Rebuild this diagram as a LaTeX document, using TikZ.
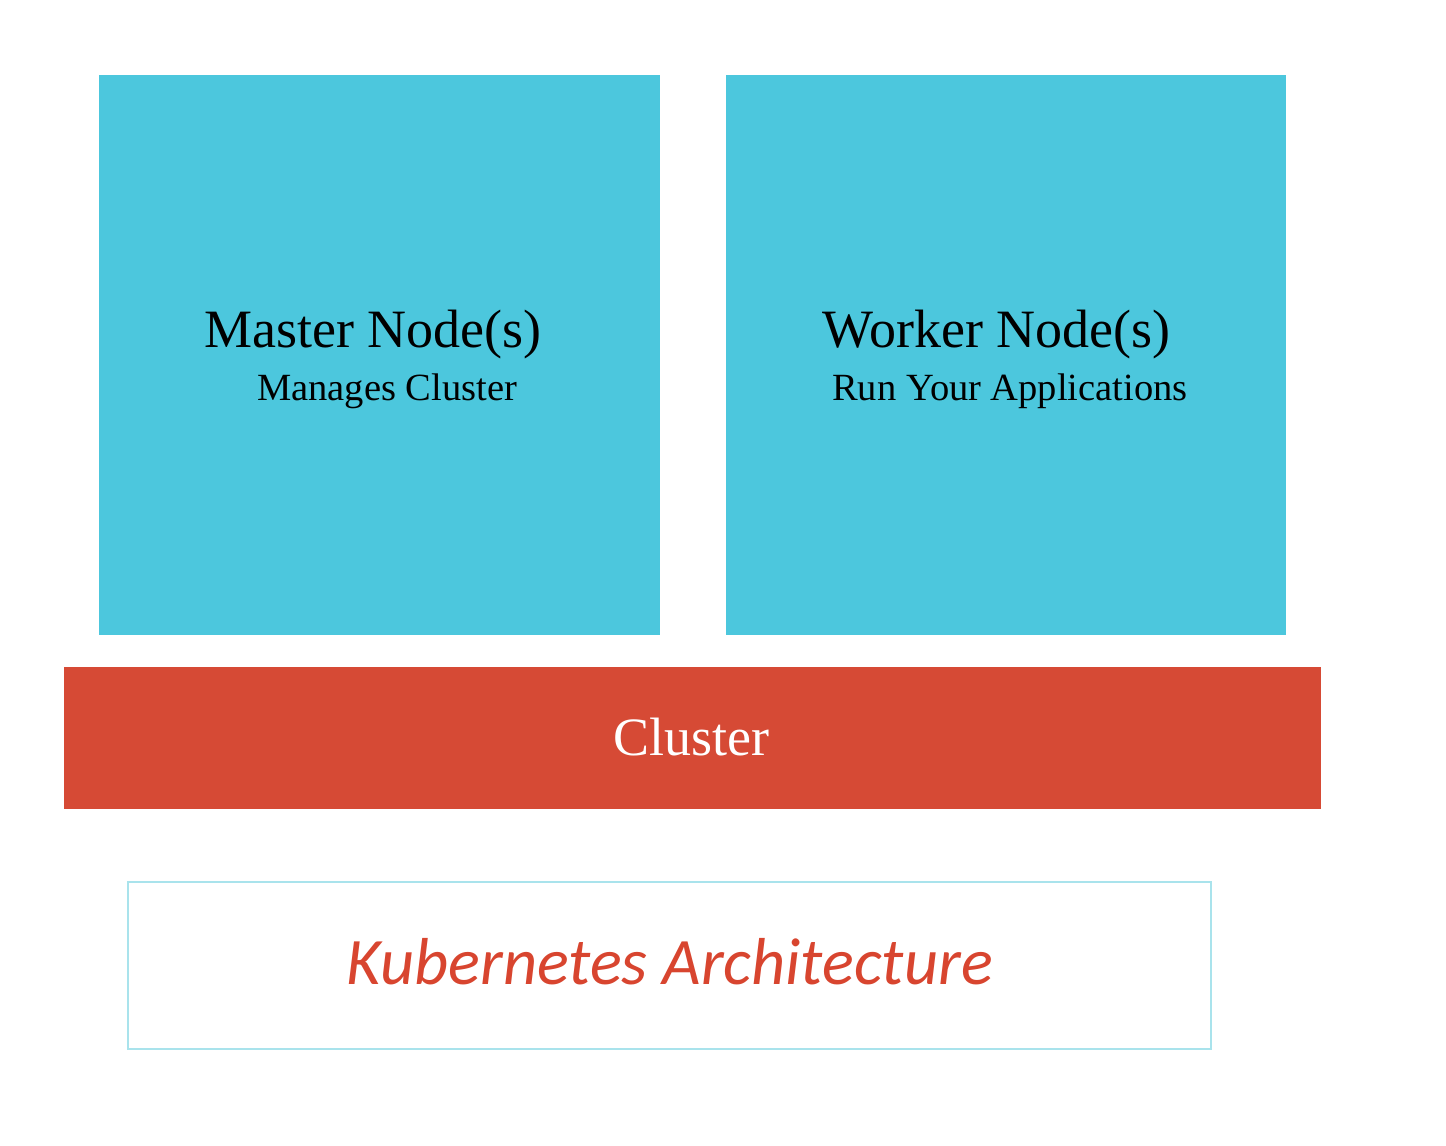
\documentclass[tikz,border=0pt]{standalone}
\usepackage{fontspec}
\setmainfont{Liberation Serif}
\newfontfamily\carlito{Carlito}
\definecolor{kcyan}{HTML}{4CC7DD}
\definecolor{kred}{HTML}{D64A35}
\definecolor{kborder}{HTML}{A9E3EC}
\definecolor{ktext}{HTML}{D8452F}
\begin{document}
\begin{tikzpicture}[x=1pt,y=-1pt,
  nodebox/.style={fill=kcyan, draw=none, inner sep=0pt, minimum width=561pt, minimum height=560pt},
  clusterbar/.style={fill=kred, draw=none, inner sep=0pt, minimum width=1257pt, minimum height=142pt},
  titlebox/.style={draw=kborder, line width=2pt, fill=white, inner sep=0pt, minimum width=1083pt, minimum height=167pt},
  bigtext/.style={inner sep=0pt, anchor=base, font=\fontsize{54}{60}\selectfont},
  smalltext/.style={inner sep=0pt, anchor=base, font=\fontsize{38.5}{44}\selectfont},
  kubetext/.style={inner sep=0pt, anchor=base, text=ktext, font=\carlito\itshape\fontsize{66.4}{72}\selectfont}
]
\useasboundingbox (0,0) rectangle (1446,1146);
\fill[white] (0,0) rectangle (1446,1146);
\node[nodebox] (master) at (379.5,355) {};
\node[nodebox, minimum width=560pt] (worker) at (1006,355) {};
\node[clusterbar] (cluster) at (692.5,738) {};
\node[titlebox] (title) at (669.5,965.5) {};
\node[bigtext] (mastert) at (373,347) {Master Node(s)};
\node[smalltext] (masters) at (387,400) {Manages Cluster};
\node[bigtext] (workert) at (996.5,347) {Worker Node(s)};
\node[smalltext] (workers) at (1010,400) {Run Your Applications};
\node[bigtext, text=white] (clustert) at (691.5,755) {Cluster};
\node[kubetext] (kubet) at (669.5,984) {Kubernetes Architecture};
\end{tikzpicture}
\end{document}
